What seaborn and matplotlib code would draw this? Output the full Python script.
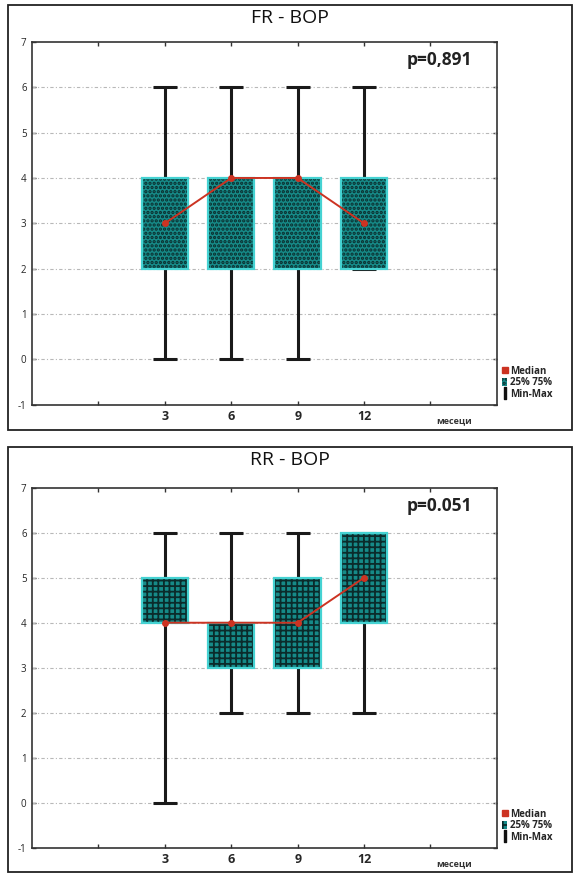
import numpy as np
import pandas as pd
import matplotlib.pyplot as plt
import seaborn as sns
from matplotlib.patches import Rectangle, Patch
from matplotlib.lines import Line2D

sns.set_theme(style="white")
plt.rcParams['font.family'] = ['Open Sans', 'DejaVu Sans']

# data
months = ["3", "6", "9", "12"]

fr_median = [3, 4, 4, 3]
fr_q1 = [2, 2, 2, 2]
fr_q3 = [4, 4, 4, 4]
fr_min = [0, 0, 0, 2]
fr_max = [6, 6, 6, 6]

rr_median = [4, 4, 4, 5]
rr_q1 = [4, 3, 3, 4]
rr_q3 = [5, 4, 5, 6]
rr_min = [0, 2, 2, 2]
rr_max = [6, 6, 6, 6]

panels = [
    ("FR - BOP", "p=0,891", fr_median, fr_q1, fr_q3, fr_min, fr_max, "....", 1.6),
    ("RR - BOP", "p=0.051", rr_median, rr_q1, rr_q3, rr_min, rr_max, "+++", 1.3),
]

TEAL = "#168a88"
DARK = "#0b2b2b"
EDGE = "#45d2d2"
RED = "#cc3322"

fig = plt.figure(figsize=(5.73, 8.74), dpi=100)
axes_rects = [
    [0.056, 0.537, 0.811, 0.415],
    [0.056, 0.030, 0.811, 0.412],
]
frames = [(8, 5, 572, 430), (8, 447, 572, 872)]

for (title, ptxt, med, q1, q3, lo, hi, hatch, hlw), rect, fr in zip(panels, axes_rects, frames):
    plt.rcParams['hatch.linewidth'] = hlw
    ax = fig.add_axes(rect)
    pos = np.arange(len(months)) + 2
    df = pd.DataFrame({"pos": pos, "median": med})

    # min-max whiskers
    med_a = np.array(med)
    ax.errorbar(pos, med_a, yerr=[med_a - np.array(lo), np.array(hi) - med_a],
                fmt="none", ecolor="#1a1a1a", elinewidth=2.2, capsize=8.5,
                capthick=2.2, zorder=2)

    # 25%-75% boxes
    heights = np.array(q3) - np.array(q1)
    ax.bar(pos, heights, bottom=q1, width=0.7, color=TEAL, edgecolor=DARK,
           hatch=hatch, linewidth=0, zorder=3)
    ax.bar(pos, heights, bottom=q1, width=0.7, fill=False, edgecolor=EDGE,
           linewidth=1.6, zorder=4)

    # medians
    sns.lineplot(data=df, x="pos", y="median", ax=ax, color=RED, marker="o",
                 markersize=5, markeredgewidth=0, linewidth=1.4, zorder=5)

    ax.set_xlim(0, 7)
    ax.set_ylim(-1, 7)
    ax.set_xticks(range(1, 7))
    ax.set_xticklabels([""] + months + [""], fontsize=9, fontweight="bold")
    ax.set_yticks(range(-1, 8))
    ax.set_yticklabels([str(v) for v in range(-1, 8)], fontsize=7)
    ax.set_xlabel("")
    ax.set_ylabel("")
    ax.tick_params(axis="both", direction="in", length=3, width=1, color="#333333",
                   top=True, right=True, bottom=True, left=True, pad=4)
    for y in range(0, 7):
        ax.axhline(y, color="#b8b8b8", linestyle=(0, (3, 2, 1, 2)), linewidth=0.8,
                   zorder=1)
    for s in ax.spines.values():
        s.set_color("#333333")
        s.set_linewidth(1.2)

    ax.text(6.35, -1.35, "месеци", ha="center", va="center", fontsize=6.5,
            fontweight="bold", color="#333333")
    ax.text(6.63, 6.6, ptxt, ha="right", va="center", fontsize=12.5,
            fontweight="bold", color="#222222")

    # panel title centred on the frame
    x0, y0, x1, y1 = fr
    fig.text((x0 + x1) / 2 / 573, 1 - (y0 + 13) / 874, title, ha="center",
             va="center", fontsize=14, color="#111111")

    # panel border
    fig.add_artist(Rectangle((x0 / 573, 1 - y1 / 874), (x1 - x0) / 573,
                             (y1 - y0) / 874, transform=fig.transFigure,
                             fill=False, edgecolor="#222222", linewidth=1.3))

    handles = [
        Line2D([], [], color=RED, marker="s", linestyle="none", markersize=4),
        Patch(facecolor=TEAL, edgecolor=DARK, hatch=hatch, linewidth=0),
        Line2D([], [], color="#111111", marker="$\\mathsf{I}$", linestyle="none",
               markersize=8),
    ]
    leg = ax.legend(handles, ["Median", "25% 75%", "Min-Max"],
                    loc="lower left", bbox_to_anchor=(1.0, 0.0), frameon=False,
                    fontsize=7, handlelength=0.6, handleheight=1.0,
                    handletextpad=0.3, labelspacing=0.05, borderaxespad=0.1)
    for t in leg.get_texts():
        t.set_fontweight("bold")

fig.savefig("out.png", dpi=100)
